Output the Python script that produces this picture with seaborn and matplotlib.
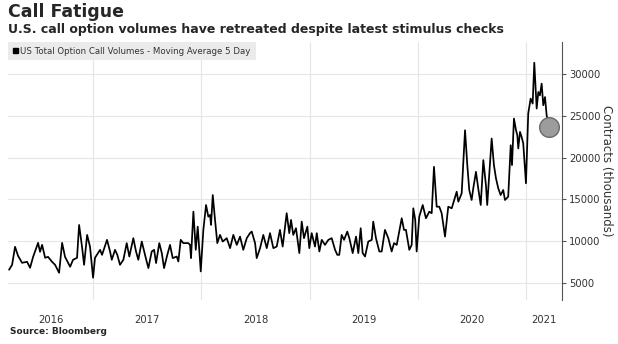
import matplotlib
matplotlib.use("Agg")
import matplotlib.pyplot as plt
import numpy as np
import pandas as pd
import seaborn as sns
from matplotlib.patches import Patch

# ---------------- data ----------------
years = [
    2016.224, 2016.252, 2016.279, 2016.307, 2016.344, 2016.390, 2016.418, 2016.446, 2016.492, 2016.510,
    2016.529, 2016.557, 2016.584, 2016.621, 2016.649, 2016.686, 2016.714, 2016.741, 2016.788, 2016.815,
    2016.852, 2016.871, 2016.898, 2016.917, 2016.945, 2016.972, 2017.000, 2017.018, 2017.065, 2017.083,
    2017.129,
    2017.157, 2017.173, 2017.203, 2017.224, 2017.249, 2017.280, 2017.311, 2017.335, 2017.372, 2017.397,
    2017.418, 2017.450, 2017.480, 2017.511, 2017.542, 2017.564, 2017.582, 2017.612, 2017.635, 2017.656,
    2017.686, 2017.711, 2017.736, 2017.773, 2017.788, 2017.810, 2017.834, 2017.880, 2017.896, 2017.905,
    2017.927, 2017.949, 2017.967, 2017.995, 2018.019, 2018.044, 2018.065, 2018.081, 2018.090, 2018.106,
    2018.127, 2018.148, 2018.173, 2018.198,
    2018.235, 2018.266, 2018.296, 2018.328, 2018.358, 2018.388, 2018.420, 2018.450, 2018.466, 2018.497,
    2018.512, 2018.543, 2018.573, 2018.605, 2018.635, 2018.666, 2018.697, 2018.727, 2018.752, 2018.789,
    2018.813, 2018.829, 2018.850, 2018.875, 2018.906, 2018.928, 2018.949, 2018.980, 2018.998, 2019.020,
    2019.051, 2019.067, 2019.091, 2019.113, 2019.143, 2019.174, 2019.205, 2019.236, 2019.257,
    2019.275, 2019.297, 2019.319, 2019.349, 2019.368, 2019.399, 2019.430, 2019.451, 2019.473, 2019.491,
    2019.513, 2019.543, 2019.575, 2019.589, 2019.614, 2019.645, 2019.667, 2019.697, 2019.728, 2019.759,
    2019.781, 2019.806, 2019.852, 2019.873, 2019.891, 2019.922, 2019.944, 2019.959, 2019.977, 2019.990,
    2020.014, 2020.046, 2020.076, 2020.107, 2020.129, 2020.150, 2020.175, 2020.199, 2020.221, 2020.252,
    2020.282,
    2020.314, 2020.360, 2020.375, 2020.406, 2020.437, 2020.458, 2020.476, 2020.498, 2020.513, 2020.538,
    2020.559, 2020.582, 2020.606, 2020.630, 2020.642, 2020.683, 2020.704, 2020.723, 2020.744, 2020.766,
    2020.790, 2020.806, 2020.836, 2020.859, 2020.871, 2020.889, 2020.908, 2020.920, 2020.929, 2020.945,
    2020.960, 2020.975, 2021.000, 2021.021, 2021.043, 2021.062, 2021.077, 2021.099, 2021.114, 2021.129,
    2021.145, 2021.160, 2021.176, 2021.191, 2021.215,
]
call_volumes = [
    6610, 7200, 9350, 8270, 7440, 7560, 6850, 8150, 9820, 8750,
    9580, 8040, 8150, 7560, 7200, 6250, 9820, 8150, 6970, 7800,
    8040, 11960, 9350, 7200, 10770, 9350, 5660, 8040, 8990, 8390,
    10180,
    8790, 7800, 8990, 8390, 7200, 7800, 9790, 8190, 10380, 8790,
    7800, 9980, 8390, 6810, 8790, 8990, 7410, 9790, 8600, 6810,
    8390, 9580, 8000, 8190, 7600, 10180, 9790, 9790, 9580, 8000,
    13550, 8990, 11760, 6410, 11370, 14340, 12950, 13150, 11960, 15530,
    12560, 9790, 10770, 9980,
    10380, 9190, 10770, 9580, 10570, 8990, 10380, 10980, 11170, 9790,
    8000, 9190, 10770, 9190, 10980, 9190, 9380, 11370, 9380, 13360,
    10980, 12560, 10770, 11570, 8600, 12360, 10380, 11760, 9190, 10980,
    9380, 10980, 8790, 10180, 9580, 10180, 10380, 8990, 8390,
    8390, 10770, 10180, 11170, 10380, 8600, 10570, 8600, 11570, 8600,
    8190, 9980, 10180, 12360, 10380, 8790, 8790, 11370, 10380, 8790,
    9790, 9580, 12760, 11370, 11370, 8990, 9580, 13950, 12560, 8790,
    12950, 14340, 12760, 13550, 13360, 18900, 14140, 14140, 13360, 10570,
    14140,
    13950, 15930, 14740, 15740, 23270, 19100, 16130, 14940, 16330, 18300,
    16330, 14340, 19700, 16720, 14340, 22280, 19100, 17520, 16330, 15530,
    16130, 14940, 15330, 21480, 19100, 24660, 23270, 22670, 21090, 23070,
    22470, 21690, 16930, 25260, 27040, 26450, 31330, 25850, 27830, 27430,
    28830, 26250, 27230, 25050, 23660,
]
y_ticks = [5000, 10000, 15000, 20000, 25000, 30000]
year_bounds = [2016, 2017, 2018, 2019, 2020, 2021]

title = "Call Fatigue"
subtitle = "U.S. call option volumes have retreated despite latest stimulus checks"
series_label = "US Total Option Call Volumes - Moving Average 5 Day"
y_label = "Contracts (thousands)"
source = "Source: Bloomberg"

# ---------------- style ----------------
sns.set_theme(style="white")
plt.rcParams["font.family"] = ["DejaVu Sans"]

df = pd.DataFrame({"year": years, "calls": call_volumes})

W, H = 618, 344
fig = plt.figure(figsize=(W / 100, H / 100), dpi=100)
fig.patch.set_facecolor("white")
ax = fig.add_axes([8 / W, 1 - 300 / H, (562 - 8) / W, (300 - 42) / H])
ax.set_facecolor("white")

xmin, xmax = years[0] - 0.01, 2021.333
ax.set_xlim(xmin, xmax)
ax.set_ylim(3000, 33800)

# grid
ax.set_xticks(year_bounds[1:])
ax.set_yticks(y_ticks)
ax.grid(True, which="major", color="#e6e6e6", linewidth=0.8, zorder=0)
ax.set_axisbelow(True)

sns.lineplot(data=df, x="year", y="calls", ax=ax, color="black", linewidth=1.25, zorder=3)
last = df.iloc[-1]
ax.scatter([last["year"]], [last["calls"]], s=200, color="#9c9c9c", edgecolor="#6a6a6a",
           linewidth=1.0, zorder=4)

# x labels centred on each visible year span
centers, labels = [], []
for y0 in year_bounds:
    a, b = max(y0, xmin), min(y0 + 1, xmax)
    if b > a:
        centers.append((a + b) / 2)
        labels.append(str(y0))
ax.set_xticks(centers, minor=True)
ax.set_xticklabels(labels, minor=True)
ax.set_xticklabels([], minor=False)
ax.tick_params(axis="x", which="both", length=0, pad=11, labelsize=7.2, labelcolor="#333333")
ax.set_xlabel("")

# right y axis
ax.yaxis.tick_right()
ax.yaxis.set_label_position("right")
ax.tick_params(axis="y", which="major", right=True, left=False, length=3, width=0.8,
               color="#555555", labelsize=7.2, labelcolor="#333333", pad=2)
ax.set_ylabel(y_label, rotation=270, fontsize=8.5, color="#333333", labelpad=9)
for s in ["left", "top", "bottom"]:
    ax.spines[s].set_visible(False)
ax.spines["right"].set_color("#555555")
ax.spines["right"].set_linewidth(0.8)

# legend
leg = ax.legend(handles=[Patch(facecolor="black", edgecolor="black", label=series_label)],
                loc="upper left", bbox_to_anchor=(0, 1), borderaxespad=0, frameon=True,
                fancybox=False, facecolor="#ebebeb", edgecolor="none", framealpha=1,
                fontsize=6.2, handlelength=0.6, handleheight=0.6, handletextpad=0.3,
                borderpad=0.55)
for t in leg.get_texts():
    t.set_color("#333333")

fig.text(8 / W, 1 - 12 / H, title, fontsize=12.5, fontweight="bold", va="center", ha="left")
fig.text(8 / W, 1 - 30 / H, subtitle, fontsize=9.0, fontweight="bold", va="center", ha="left")
fig.text(10 / W, 1 - 332 / H, source, fontsize=6.5, fontweight="bold", va="center", ha="left")

fig.savefig("out.png", dpi=100, facecolor="white")
